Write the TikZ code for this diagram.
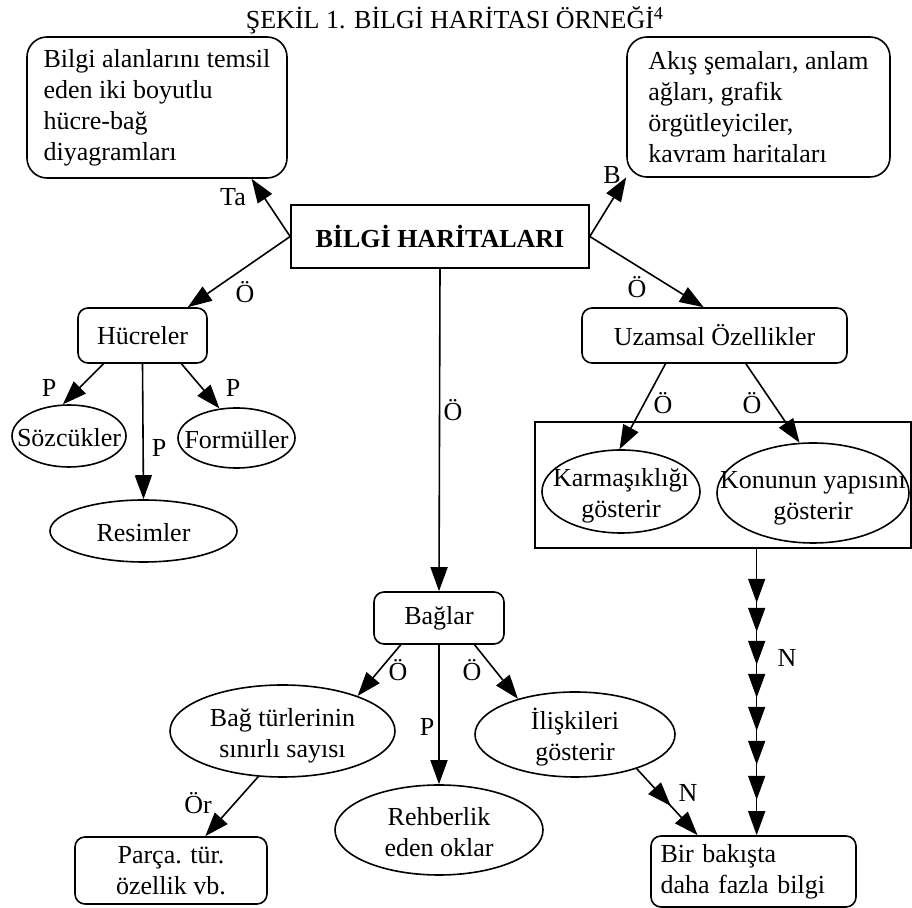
\documentclass[tikz,border=0pt]{standalone}
\usepackage{fontspec}
\setmainfont{Liberation Serif}
\usepackage{tikz}
\usetikzlibrary{shapes.geometric,arrows.meta,decorations.markings}

\newcommand{\yazi}[1]{\raisebox{-0.4em}[0pt][0pt]{\makebox[0pt]{\begin{tabular}{@{}c@{}}#1\end{tabular}}}}
\newcommand{\ucu}{\arrow{Triangle[length=12pt,width=8.5pt]}}

\begin{document}
\begin{tikzpicture}[x=0.5pt,y=-0.5pt,font=\fontsize{13}{15.5}\selectfont,
             kutu/.style={draw,line width=0.8pt,rounded corners=5pt,inner sep=0pt},
             elips/.style={draw,ellipse,line width=0.8pt,inner sep=0pt},
             ok/.style={line width=0.8pt,-{Triangle[length=12pt,width=8.5pt]}},
             etiket/.style={inner sep=0pt}]
             \useasboundingbox (0,0) rectangle (912,908);

             \node[etiket] (baslik) at (455,20) {ŞEKİL 1. BİLGİ HARİTASI ÖRNEĞİ\textsuperscript{4}};

             \node[kutu,rounded corners=10pt,minimum width=130pt,minimum height=70.5pt,align=left] (alan) at (157,107.5) {Bilgi alanlarını temsil\\eden iki boyutlu\\hücre-bağ\\diyagramları};
             \node[kutu,rounded corners=10pt,minimum width=131.5pt,minimum height=70pt,align=left] (akis) at (758.5,107) {Akış şemaları, anlam\\ağları, grafik\\örgütleyiciler,\\kavram haritaları};
             \node[draw,line width=0.8pt,inner sep=0pt,minimum width=149pt,minimum height=31.5pt,font=\fontsize{13}{15.5}\selectfont\bfseries] (ana) at (440,236.5) {BİLGİ HARİTALARI};

             \node[kutu,minimum width=64.5pt,minimum height=27.5pt] (hucre) at (142.5,335.5) {Hücreler};
             \node[elips,minimum width=57pt,minimum height=31pt] (sozcuk) at (69,436) {\yazi{Sözcükler}};
             \node[elips,minimum width=58.5pt,minimum height=30pt] (formul) at (236.5,438) {\yazi{Formüller}};
             \node[elips,minimum width=93.5pt,minimum height=31pt] (resim) at (143.5,531) {\yazi{Resimler}};

             \node[kutu,minimum width=132.5pt,minimum height=27.5pt] (uzam) at (714.5,335.5) {Uzamsal Özellikler};
             \node[draw,line width=0.8pt,minimum width=188pt,minimum height=63pt] (cerceve) at (723,485) {};
             \node[elips,minimum width=79pt,minimum height=41.5pt] (karma) at (621,491.5) {\yazi{Karmaşıklığı\\gösterir}};
             \node[elips,minimum width=96pt,minimum height=50pt] (konu) at (813,493) {\yazi{Konunun yapısını\\gösterir}};

             \node[kutu,minimum width=65pt,minimum height=26pt] (bag) at (439,618) {Bağlar};
             \node[elips,minimum width=112.5pt,minimum height=46pt] (bagtur) at (282.5,731) {\yazi{Bağ türlerinin\\sınırlı sayısı}};
             \node[elips,minimum width=104pt,minimum height=45pt] (rehber) at (439,830) {\yazi{Rehberlik\\eden oklar}};
             \node[elips,minimum width=100pt,minimum height=42.5pt] (iliski) at (575,734.5) {\yazi{İlişkileri\\gösterir}};
             \node[kutu,minimum width=96pt,minimum height=33.5pt,align=center] (parca) at (171,870.5) {Parça. tür.\\özellik vb.};
             \node[kutu,minimum width=102.5pt,minimum height=35.5pt,text width=93pt,align=left] (bakis) at (753.5,871.5) {Bir bakışta\\daha fazla bilgi};

             \draw[ok] (ana.west) -- (alan.-37);
             \draw[ok] (ana.east) -- (akis.208);
             \draw[ok] (ana.west) -- (hucre.32);
             \draw[ok] (ana.east) -- (uzam.111);
             \draw[ok] (ana.south) -- (bag.north);

             \draw[ok] (hucre.216) -- (sozcuk.101);
             \draw[ok] (hucre.-36) -- (formul.120);
             \draw[ok] (hucre.south) -- (resim.north);

             \draw[ok] (uzam.210) -- (karma.92);
             \draw[ok] (uzam.-42) -- (konu.105);
             \draw[ok,postaction={decorate},decoration={markings,
                 mark=at position 27pt with {\ucu},
                 mark=at position 41.5pt with {\ucu},
                 mark=at position 58pt with {\ucu},
                 mark=at position 74.5pt with {\ucu},
                 mark=at position 91pt with {\ucu},
                 mark=at position 108pt with {\ucu},
                 mark=at position 125.5pt with {\ucu}}]
                 (cerceve.south -| bakis.85) -- (bakis.85);

             \draw[ok] (bag.215) -- (bagtur.25);
             \draw[ok] (bag.south) -- (rehber.north);
             \draw[ok] (bag.-37) -- (iliski.148);
             \draw[ok] (bagtur.242) -- (parca.45);
             \draw[ok,postaction={decorate},decoration={markings,
                 mark=at position 25.2pt with {\ucu}}]
                 (iliski.-29) -- (bakis.147);

             \node[etiket] (lTa) at (233,197) {Ta};
             \node[etiket] (lB) at (612,175) {B};
             \node[etiket] (lHucre) at (245,292) {Ö};
             \node[etiket] (lUzam) at (637,287) {Ö};
             \node[etiket] (lBag) at (453,410) {Ö};
             \node[etiket] (lSozcuk) at (49,388) {P};
             \node[etiket] (lFormul) at (233,388) {P};
             \node[etiket] (lResim) at (159,448) {P};
             \node[etiket] (lKarma) at (663,403) {Ö};
             \node[etiket] (lKonu) at (752,403) {Ö};
             \node[etiket] (lCerceve) at (787,658) {N};
             \node[etiket] (lBagtur) at (398,670) {Ö};
             \node[etiket] (lRehber) at (427,727) {P};
             \node[etiket] (lIliski) at (472,670) {Ö};
             \node[etiket] (lParca) at (198,803) {Ör};
             \node[etiket] (lBakis) at (688,793) {N};
\end{tikzpicture}
\end{document}
